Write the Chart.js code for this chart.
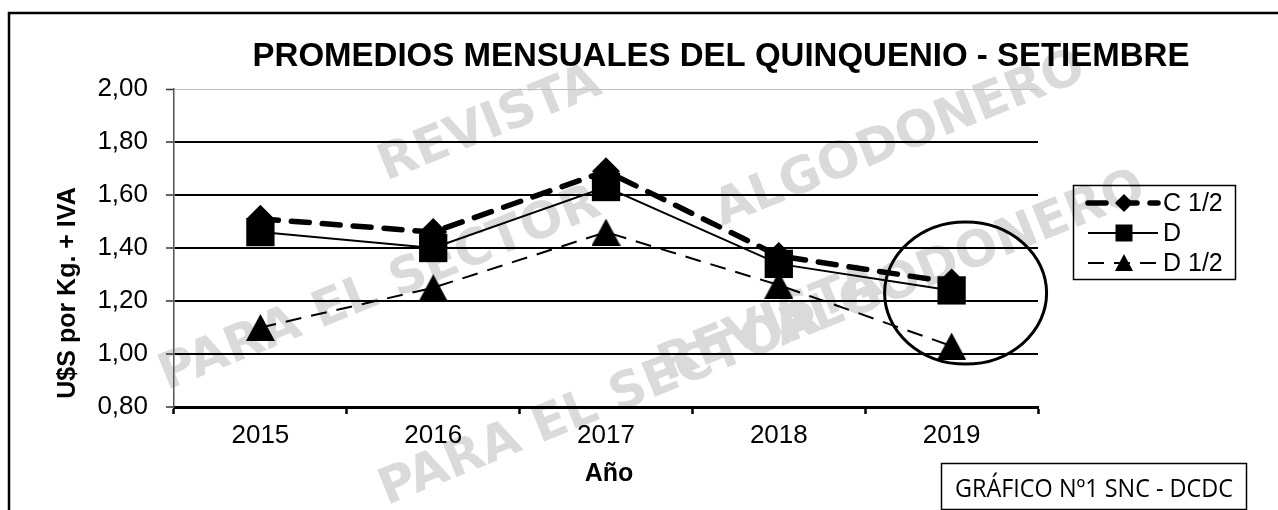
<!DOCTYPE html>
<html lang="es">
<head>
  <meta charset="UTF-8">
  <title>Promedios mensuales del quinquenio - Setiembre</title>
  <script src="https://cdn.jsdelivr.net/npm/chart.js"></script>
  <style>
    body { margin: 0; background: #fff; }
    #chart { display: block; }
  </style>
</head>
<body>
  <canvas id="chart" width="1278" height="510"></canvas>

  <script>
    // datos
    const years = ['2015', '2016', '2017', '2018', '2019'];
    const serieC12 = [1.51, 1.46, 1.69, 1.37, 1.27];
    const serieD = [1.46, 1.40, 1.63, 1.34, 1.24];
    const serieD12 = [1.10, 1.25, 1.46, 1.26, 1.03];
    const seriesNames = ['C 1/2', 'D', 'D 1/2'];
    const yMin = 0.8, yMax = 2.0, yStep = 0.2;

    const FONT = '"Liberation Sans", Arial, sans-serif';

    // triangulo estilo Excel (mas alto que el equilatero)
    function makeTriangle(w, h) {
      const c = document.createElement('canvas');
      c.width = w; c.height = h;
      const g = c.getContext('2d');
      g.fillStyle = '#000';
      g.beginPath();
      g.moveTo(w / 2, 0);
      g.lineTo(w, h);
      g.lineTo(0, h);
      g.closePath();
      g.fill();
      return c;
    }
    const triBig = makeTriangle(29, 27);

    const overlay = {
      id: 'overlay',
      beforeDraw(chart) {
        const ctx = chart.ctx;
        // marca de agua (aprox.)
        ctx.save();
        ctx.fillStyle = '#dadada';
        ctx.font = 'bold 50px "DejaVu Sans", ' + FONT;
        ctx.textAlign = 'center';
        ctx.textBaseline = 'middle';
        const marks = [
          ['REVISTA', 490, 125],
          ['ALGODONERO', 900, 140],
          ['PARA EL SECTOR', 380, 290],
          ['ALGODONERO', 960, 260],
          ['REVISTA', 770, 325],
          ['PARA EL SECTOR', 600, 405]
        ];
        marks.forEach(([t, x, y]) => {
          ctx.save();
          ctx.translate(x, y);
          ctx.rotate(-22 * Math.PI / 180);
          ctx.fillText(t, 0, 0);
          ctx.restore();
        });
        ctx.restore();
      },
      afterDraw(chart) {
        const ctx = chart.ctx;
        const xs = chart.scales.x, ys = chart.scales.y, area = chart.chartArea;
        ctx.save();

        // marco exterior
        ctx.strokeStyle = '#000';
        ctx.lineWidth = 2.5;
        ctx.strokeRect(9, 13, 1300, 520);

        // titulo
        ctx.fillStyle = '#000';
        ctx.font = 'bold 33px ' + FONT;
        ctx.textAlign = 'center';
        ctx.textBaseline = 'alphabetic';
        ctx.fillText('PROMEDIOS MENSUALES DEL QUINQUENIO - SETIEMBRE', 721, 66);

        // titulos de ejes
        ctx.font = 'bold 25px ' + FONT;
        ctx.fillText('Año', (area.left + area.right) / 2 + 3, 481);
        ctx.save();
        ctx.translate(75, 293);
        ctx.rotate(-Math.PI / 2);
        ctx.fillText('U$S por Kg. + IVA', 0, 0);
        ctx.restore();

        // elipse alrededor de 2019
        ctx.strokeStyle = '#000';
        ctx.lineWidth = 3;
        ctx.beginPath();
        ctx.ellipse(xs.getPixelForValue(4) + 14, ys.getPixelForValue(1.23), 81, 71, 0, 0, Math.PI * 2);
        ctx.stroke();

        // leyenda
        const lx = 1073, ly = 185;
        ctx.lineWidth = 1.5;
        ctx.strokeRect(lx + 0.5, ly + 0.5, 162, 94);
        chart.data.datasets.forEach((ds, i) => {
          const y = ly + 18 + i * 30;
          ctx.save();
          ctx.strokeStyle = '#000';
          ctx.lineWidth = ds.borderWidth;
          ctx.lineCap = ds.borderCapStyle || 'butt';
          ctx.setLineDash(ds.borderDash || []);
          ctx.beginPath();
          ctx.moveTo(1088, y);
          ctx.lineTo(1158, y);
          ctx.stroke();
          ctx.restore();
          const mx = 1124;
          ctx.fillStyle = '#000';
          ctx.beginPath();
          if (i === 0) {
            ctx.moveTo(mx, y - 9); ctx.lineTo(mx + 9, y); ctx.lineTo(mx, y + 9); ctx.lineTo(mx - 9, y);
          } else if (i === 1) {
            ctx.rect(mx - 8.5, y - 8.5, 17, 17);
          } else {
            ctx.moveTo(mx, y - 9); ctx.lineTo(mx + 9, y + 8); ctx.lineTo(mx - 9, y + 8);
          }
          ctx.closePath();
          ctx.fill();
          ctx.font = '25px ' + FONT;
          ctx.textAlign = 'left';
          ctx.textBaseline = 'middle';
          ctx.fillText(ds.label, 1163, y + 1);
        });

        // recuadro de fuente
        ctx.lineWidth = 1.5;
        ctx.strokeRect(941.5, 463.5, 305, 46);
        ctx.font = '25px "Open Sans", ' + FONT;
        ctx.textAlign = 'center';
        ctx.textBaseline = 'alphabetic';
        ctx.fillText('GRÁFICO Nº1 SNC - DCDC', 1094, 497, 278);

        ctx.restore();
      }
    };

    new Chart(document.getElementById('chart'), {
      type: 'line',
      data: {
        labels: years,
        datasets: [
          {
            label: seriesNames[0],
            data: serieC12,
            borderColor: '#000',
            backgroundColor: '#000',
            borderWidth: 5.5,
            borderDash: [18, 13],
            borderCapStyle: 'round',
            pointStyle: 'rectRot',
            pointRadius: 14,
            pointBorderWidth: 0,
            tension: 0
          },
          {
            label: seriesNames[1],
            data: serieD,
            borderColor: '#000',
            backgroundColor: '#000',
            borderWidth: 2,
            pointStyle: 'rect',
            pointRadius: 20,
            pointBorderWidth: 0,
            tension: 0
          },
          {
            label: seriesNames[2],
            data: serieD12,
            borderColor: '#000',
            backgroundColor: '#000',
            borderWidth: 2,
            borderDash: [16, 10],
            pointStyle: triBig,
            pointRadius: 14,
            tension: 0
          }
        ]
      },
      options: {
        responsive: false,
        animation: false,
        devicePixelRatio: 1,
        layout: { padding: { top: 89, right: 240, left: 0, bottom: 0 } },
        plugins: {
          legend: { display: false },
          tooltip: { enabled: false }
        },
        scales: {
          x: {
            offset: true,
            afterFit: s => { s.height = 103; },
            grid: {
              offset: true,
              drawOnChartArea: false,
              drawTicks: true,
              tickLength: 7,
              tickColor: '#000',
              tickWidth: 2.5
            },
            border: { color: '#000', width: 3 },
            ticks: {
              color: '#000',
              font: { family: FONT, size: 26 },
              padding: 6
            }
          },
          y: {
            min: yMin,
            max: yMax,
            afterFit: s => { s.width = 174; },
            grid: {
              color: c => (c.tick && c.tick.value > 1.99 ? '#bfbfbf' : '#000'),
              lineWidth: c => (c.tick && c.tick.value > 1.99 ? 1 : 2),
              tickLength: 8,
              tickColor: '#333',
              tickWidth: 1.5
            },
            border: { color: '#555', width: 1.5 },
            ticks: {
              stepSize: yStep,
              color: '#000',
              font: { family: FONT, size: 26 },
              padding: 18,
              callback: v => v.toFixed(2).replace('.', ',')
            }
          }
        }
      },
      plugins: [overlay]
    });
  </script>
</body>
</html>
